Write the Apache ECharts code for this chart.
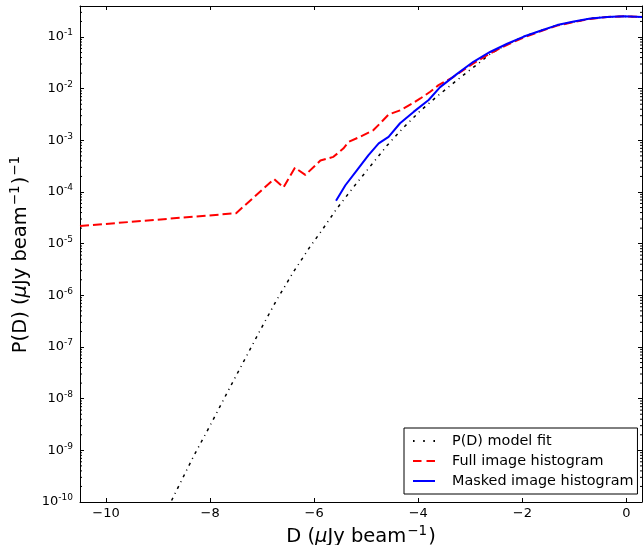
<!DOCTYPE html>
<html>
<head>
<meta charset="utf-8">
<script src="https://cdn.jsdelivr.net/npm/echarts@6/dist/echarts.min.js"></script>
<style>
  html, body { margin: 0; padding: 0; background: #fff; }
  #chart { width: 643px; height: 545px; }
</style>
</head>
<body>
<div id="chart"></div>
<script>
/* values, P(D) in linear units */
let fitD = [-8.74, -8.32, -8.0, -7.68, -7.36, -7.04, -6.72, -6.40, -6.08, -5.85,
  -5.57, -5.24, -4.92, -4.60, -4.28, -3.96, -3.64, -3.32, -3.06, -2.84,
  -2.62, -2.29, -1.97, -1.65, -1.33, -1.01, -0.69, -0.37, -0.05, 0.3];
let fitP = [1.07e-10, 7.59e-10, 3.02e-9, 1.26e-8, 5.13e-8, 2.09e-7, 8.13e-7, 2.82e-6, 8.71e-6, 1.82e-5,
  4.68e-5, 1.26e-4, 3.16e-4, 7.94e-4, 1.78e-3, 3.72e-3, 7.08e-3, 1.29e-2, 2.09e-2, 3.09e-2,
  4.68e-2, 7.24e-2, 0.102, 0.132, 0.170, 0.195, 0.229, 0.245, 0.251, 0.245];

let fullD = [-10.5, -7.5, -6.77, -6.59, -6.37, -6.17, -5.88, -5.63, -5.44, -5.34,
  -5.12, -4.86, -4.73, -4.57, -4.35, -4.12, -3.96, -3.77, -3.61, -3.32,
  -2.94, -2.62, -2.29, -1.97, -1.65, -1.33, -1.01, -0.69, -0.37, -0.05, 0.3];
let fullP = [2.19e-5, 3.89e-5, 1.78e-4, 1.23e-4, 2.95e-4, 2.14e-4, 4.07e-4, 4.79e-4, 6.92e-4, 9.33e-4,
  1.17e-3, 1.58e-3, 2.14e-3, 3.16e-3, 3.80e-3, 5.13e-3, 6.46e-3, 8.71e-3, 1.17e-2, 1.70e-2,
  3.09e-2, 4.79e-2, 7.08e-2, 9.77e-2, 0.129, 0.166, 0.195, 0.224, 0.245, 0.251, 0.245];

let maskD = [-5.58, -5.40, -5.18, -4.96, -4.76, -4.57, -4.35, -4.09, -3.80, -3.58,
  -3.26, -2.94, -2.62, -2.29, -1.97, -1.65, -1.33, -1.01, -0.69, -0.37, -0.05, 0.3];
let maskP = [6.76e-5, 1.35e-4, 2.63e-4, 5.13e-4, 8.71e-4, 1.17e-3, 2.14e-3, 3.55e-3, 6.03e-3, 1.07e-2,
  1.91e-2, 3.31e-2, 5.13e-2, 7.41e-2, 0.102, 0.132, 0.170, 0.200, 0.229, 0.245, 0.251, 0.245];

let seriesNames = ["P(D) model fit", "Full image histogram", "Masked image histogram"];

/* axis ranges; y is drawn in log10 units */
let X_MIN = -10.5, X_MAX = 0.3;
let Y_MIN = -10, Y_MAX = -0.4;
let minorMult = [2, 3, 4, 5, 6, 7, 8, 9];

let FONT = "DejaVu Sans";

function toPairs(xs, ps) {
  return xs.map(function (x, i) { return [x, Math.log10(ps[i])]; });
}

/* log minor tick positions */
let minorTicks = [];
for (let e = Y_MIN; e < 0; e++) {
  minorMult.forEach(function (m) {
    let v = e + Math.log10(m);
    if (v < Y_MAX) minorTicks.push([X_MIN, v]);
  });
}

/* legend line samples (dots, dashes, solid) */
let ICON_FIT = "path://M0,0h1.6v2h-1.6z M10.2,0h1.6v2h-1.6z M20.4,0h1.6v2h-1.6z";
let ICON_FULL = "path://M0,0h8.5v2h-8.5z M13.5,0h8.5v2h-8.5z";
let ICON_MASK = "path://M0,0h22v2h-22z";

let supRich = {
  b: { fontFamily: FONT, fontSize: 13, color: "#000" },
  s: { fontFamily: FONT, fontSize: 9, color: "#000", padding: [0, 0, 8, 0] },
};

let nameRich = {
  b: { fontFamily: FONT, fontSize: 19.5, color: "#000" },
  m: { fontFamily: FONT, fontSize: 19.5, color: "#000", fontStyle: "italic" },
  s: { fontFamily: FONT, fontSize: 13.5, color: "#000", padding: [0, 1, 11, 1] },
};

let chart = echarts.init(document.getElementById("chart"), null, { renderer: "canvas" });

let commonX = {
  type: "value",
  min: X_MIN,
  max: X_MAX,
  splitNumber: 5,
  splitLine: { show: false },
  axisLine: { onZero: false, lineStyle: { color: "#000", width: 1 } },
  axisTick: { inside: true, length: 4, lineStyle: { color: "#000" } },
};
let commonY = {
  type: "value",
  min: Y_MIN,
  max: Y_MAX,
  interval: 1,
  splitLine: { show: false },
  axisLine: { onZero: false, lineStyle: { color: "#000", width: 1 } },
  axisTick: { inside: true, length: 4, lineStyle: { color: "#000" } },
};

chart.setOption({
  animation: false,
  backgroundColor: "#fff",
  grid: { left: 80, right: 1, top: 6, bottom: 43, outerBoundsMode: "none" },
  xAxis: [
    Object.assign({}, commonX, {
      position: "bottom",
      name: "{b|D (}{m|μ}{b|Jy beam}{s|−1}{b|)}",
      nameLocation: "middle",
      nameGap: 17,
      nameTextStyle: { rich: nameRich },
      axisLabel: {
        showMinLabel: false,
        showMaxLabel: false,
        margin: 5,
        fontFamily: FONT,
        fontSize: 13,
        color: "#000",
        formatter: function (v) {
          return v < 0 ? "\u2212" + Math.abs(v) : String(v);
        },
      },
    }),
    Object.assign({}, commonX, {
      position: "top",
      axisLabel: { show: false },
    }),
  ],
  yAxis: [
    Object.assign({}, commonY, {
      position: "left",
      name: "{b|P(D) (}{m|μ}{b|Jy beam}{s|−1}{b|)}{s|−1}",
      nameLocation: "middle",
      nameRotate: 90,
      nameGap: 46,
      nameTextStyle: { rich: nameRich },
      axisLabel: {
        margin: 7,
        color: "#000",
        formatter: function (v) {
          if (Math.abs(v - Math.round(v)) > 1e-6) return "";
          return "{b|10}{s|" + Math.round(v) + "}";
        },
        rich: supRich,
      },
    }),
    Object.assign({}, commonY, {
      position: "right",
      axisLabel: { show: false },
    }),
  ],
  legend: {
    data: [
      { name: seriesNames[0], icon: ICON_FIT },
      { name: seriesNames[1], icon: ICON_FULL },
      { name: seriesNames[2], icon: ICON_MASK },
    ],
    orient: "vertical",
    left: 404,
    top: 428,
    padding: [6, 4, 6, 9],
    itemGap: 6,
    itemWidth: 22,
    itemHeight: 2,
    backgroundColor: "#fff",
    borderColor: "#000",
    borderWidth: 1,
    borderRadius: 0,
    textStyle: { fontFamily: FONT, fontSize: 14.4, color: "#000", padding: [0, 0, 0, 12] },
  },
  series: [
    {
      name: seriesNames[0],
      type: "line",
      data: toPairs(fitD, fitP),
      symbol: "none",
      z: 2,
      lineStyle: { color: "#000", width: 1.5, type: [3, 4.5, 1, 4.5] },
      itemStyle: { color: "#000" },
    },
    {
      name: seriesNames[1],
      type: "line",
      data: toPairs(fullD, fullP),
      symbol: "none",
      z: 3,
      lineStyle: { color: "#ff0000", width: 2, type: [9, 4] },
      itemStyle: { color: "#ff0000" },
    },
    {
      name: seriesNames[2],
      type: "line",
      data: toPairs(maskD, maskP),
      symbol: "none",
      z: 4,
      lineStyle: { color: "#0000ff", width: 2, type: "solid" },
      itemStyle: { color: "#0000ff" },
    },
    {
      name: "minor ticks",
      type: "custom",
      silent: true,
      z: 5,
      data: minorTicks,
      renderItem: function (params, api) {
        let v = api.value(1);
        let l = api.coord([X_MIN, v]);
        let r = api.coord([X_MAX, v]);
        let st = { stroke: "#000", lineWidth: 1 };
        return {
          type: "group",
          children: [
            { type: "line", shape: { x1: l[0], y1: l[1], x2: l[0] + 2, y2: l[1] }, style: st },
            { type: "line", shape: { x1: r[0] - 2, y1: r[1], x2: r[0], y2: r[1] }, style: st },
          ],
        };
      },
    },
  ],
});
</script>
</body>
</html>
